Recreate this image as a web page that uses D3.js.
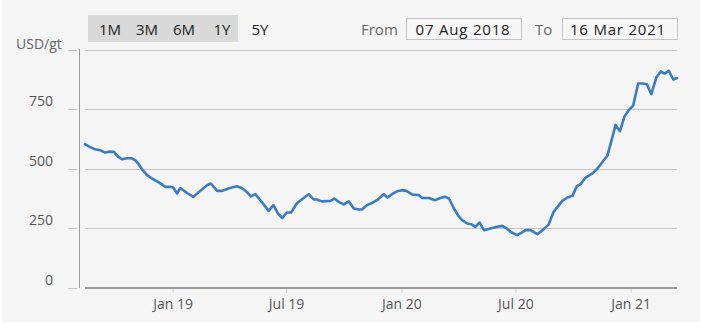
<!DOCTYPE html>
<html>
<head>
<meta charset="utf-8">
<script src="https://cdn.jsdelivr.net/npm/d3@7"></script>
<style>
  html, body { margin: 0; padding: 0; background: #ffffff; }
  svg { display: block; font-family: "Open Sans", "Noto Sans", sans-serif; }
</style>
</head>
<body>
<svg id="chart" width="702" height="329"></svg>
<script>
const dates = [
  "2018-08-14","2018-08-22","2018-08-30","2018-09-07","2018-09-15","2018-09-23","2018-09-29",
  "2018-10-06","2018-10-12","2018-10-20","2018-10-28","2018-11-02","2018-11-07","2018-11-13",
  "2018-11-21","2018-11-29","2018-12-07","2018-12-15","2018-12-20","2018-12-28","2019-01-02",
  "2019-01-08","2019-01-13","2019-01-24","2019-02-03","2019-02-14","2019-02-25","2019-03-03",
  "2019-03-13","2019-03-21","2019-03-31","2019-04-13","2019-04-21","2019-04-29","2019-05-06",
  "2019-05-13","2019-05-23","2019-06-03","2019-06-11","2019-06-18","2019-06-25","2019-07-02",
  "2019-07-09","2019-07-18","2019-07-26","2019-08-06","2019-08-14","2019-08-19","2019-08-27",
  "2019-09-10","2019-09-16","2019-09-23","2019-10-01","2019-10-09","2019-10-17","2019-10-25",
  "2019-10-30","2019-11-07","2019-11-15","2019-11-23","2019-11-28","2019-12-04","2019-12-10",
  "2019-12-17","2019-12-25","2020-01-02","2020-01-09","2020-01-18","2020-01-29","2020-02-03",
  "2020-02-14","2020-02-24","2020-03-03","2020-03-11","2020-03-17","2020-03-25","2020-04-01",
  "2020-04-07","2020-04-15","2020-04-22","2020-04-28","2020-05-05","2020-05-12","2020-05-22",
  "2020-06-02","2020-06-10","2020-06-17","2020-06-25","2020-07-04","2020-07-09","2020-07-17",
  "2020-07-25","2020-08-05","2020-08-14","2020-08-23","2020-08-31","2020-09-14","2020-09-22",
  "2020-09-30","2020-10-07","2020-10-13","2020-10-21","2020-11-01","2020-11-09","2020-11-17",
  "2020-11-25","2020-12-03","2020-12-08","2020-12-15","2020-12-22","2020-12-29","2021-01-05",
  "2021-01-13","2021-01-20","2021-01-27","2021-02-03","2021-02-11","2021-02-18","2021-02-24",
  "2021-03-03","2021-03-10","2021-03-16"
];
const prices = [
  602,590,581,577,567,571,570,
  549,539,543,543,535,521,496,
  472,458,446,433,423,423,420,
  395,418,397,381,406,430,437,
  406,406,416,425,418,402,383,
  392,360,322,346,311,292,315,
  315,353,370,392,370,370,362,
  364,374,360,349,362,332,328,
  328,346,355,367,378,392,378,
  392,404,409,406,391,388,376,
  376,367,376,381,374,332,301,
  283,269,266,255,273,241,248,
  255,259,248,231,220,227,241,
  241,224,242,264,318,364,378,
  385,425,434,462,479,500,527,
  555,633,683,657,718,745,764,
  857,857,854,812,882,908,899,
  910,874,880
];
const yTicks = [0, 250, 500, 750, 1000];
const yTickLabels = ["0", "250", "500", "750", ""];
const xTickDates = ["2019-01-01", "2019-07-01", "2020-01-01", "2020-07-01", "2021-01-01"];
const rangeButtons = ["1M", "3M", "6M", "1Y", "5Y"];
const fromDate = "07 Aug 2018";
const toDate = "16 Mar 2021";
const unitLabel = "USD/gt";

const parse = d3.timeParse("%Y-%m-%d");
const data = dates.map((d, i) => ({ date: parse(d), value: prices[i] }));

const svg = d3.select("#chart");
// panel background
svg.append("rect").attr("x", 2).attr("y", 0).attr("width", 698).attr("height", 322).attr("fill", "#f5f5f5");

const x = d3.scaleTime().domain(d3.extent(data, d => d.date)).range([85, 677]);
const y = d3.scaleLinear().domain([0, 1000]).range([287.5, 49.5]);

// range selector
const btnGroup = svg.append("g");
btnGroup.append("rect").attr("x", 88).attr("y", 15).attr("width", 150).attr("height", 27).attr("fill", "#d9d9d9");
const btnX = [110, 147, 184, 222, 260];
btnGroup.selectAll("text").data(rangeButtons).join("text")
  .attr("x", (d, i) => btnX[i]).attr("y", 34.5)
  .attr("text-anchor", "middle").attr("font-size", 15).attr("fill", "#222")
  .text(d => d);

// From / To inputs
svg.append("text").attr("x", 361).attr("y", 34.5).attr("font-size", 15).attr("fill", "#666").text("From");
svg.append("rect").attr("x", 406.5).attr("y", 18.5).attr("width", 115).attr("height", 21).attr("fill", "#f7f7f7").attr("stroke", "#c4c4c4");
svg.append("text").attr("x", 463).attr("y", 34.5).attr("text-anchor", "middle").attr("font-size", 15)
  .attr("letter-spacing", 0.8).attr("fill", "#222").text(fromDate);
svg.append("text").attr("x", 535).attr("y", 34.5).attr("font-size", 15).attr("fill", "#666").text("To");
svg.append("rect").attr("x", 562.5).attr("y", 18.5).attr("width", 115).attr("height", 21).attr("fill", "#f7f7f7").attr("stroke", "#c4c4c4");
svg.append("text").attr("x", 618).attr("y", 34.5).attr("text-anchor", "middle").attr("font-size", 15)
  .attr("letter-spacing", 0.8).attr("fill", "#222").text(toDate);

// gridlines
svg.append("g").selectAll("line").data(yTicks.filter(v => v > 0)).join("line")
  .attr("x1", 85).attr("x2", 677)
  .attr("y1", d => Math.round(y(d)) + 0.5).attr("y2", d => Math.round(y(d)) + 0.5)
  .attr("stroke", "#c6c6c6").attr("stroke-width", 1);

// y-axis tick marks
svg.append("g").selectAll("line").data(yTicks).join("line")
  .attr("x1", 68).attr("x2", 77)
  .attr("y1", d => Math.round(y(d)) + 0.5).attr("y2", d => Math.round(y(d)) + 0.5)
  .attr("stroke", "#c6c6c6").attr("stroke-width", 1);

// y-axis line
svg.append("line").attr("x1", 79.5).attr("x2", 79.5).attr("y1", 49).attr("y2", 288)
  .attr("stroke", "#9a9a9a").attr("stroke-width", 1);

// y labels
svg.append("g").selectAll("text").data(yTicks).join("text")
  .attr("x", 53).attr("y", d => y(d) - 3)
  .attr("text-anchor", "end").attr("font-size", 14).attr("fill", "#555")
  .text((d, i) => yTickLabels[i]);

svg.append("text").attr("x", 16).attr("y", 49).attr("font-size", 14).attr("fill", "#666").text(unitLabel);

// x axis
const xAxis = d3.axisBottom(x)
  .tickValues(xTickDates.map(parse))
  .tickFormat(d3.timeFormat("%b %y"))
  .tickSize(5).tickPadding(6);
const gx = svg.append("g").attr("transform", "translate(0,288)").call(xAxis);
gx.select(".domain").remove();
gx.selectAll(".tick line").attr("stroke", "#d0d0d0");
gx.selectAll(".tick text").attr("font-size", 14).attr("fill", "#555").attr("font-family", "Open Sans, sans-serif");
svg.append("line").attr("x1", 85).attr("x2", 677).attr("y1", 288).attr("y2", 288)
  .attr("stroke", "#999").attr("stroke-width", 2);

// line
const line = d3.line().x(d => x(d.date)).y(d => y(d.value));
svg.append("path").datum(data).attr("d", line)
  .attr("fill", "none").attr("stroke", "#3b7bc0").attr("stroke-width", 2.6)
  .attr("stroke-linejoin", "round").attr("stroke-linecap", "round");
</script>
</body>
</html>
